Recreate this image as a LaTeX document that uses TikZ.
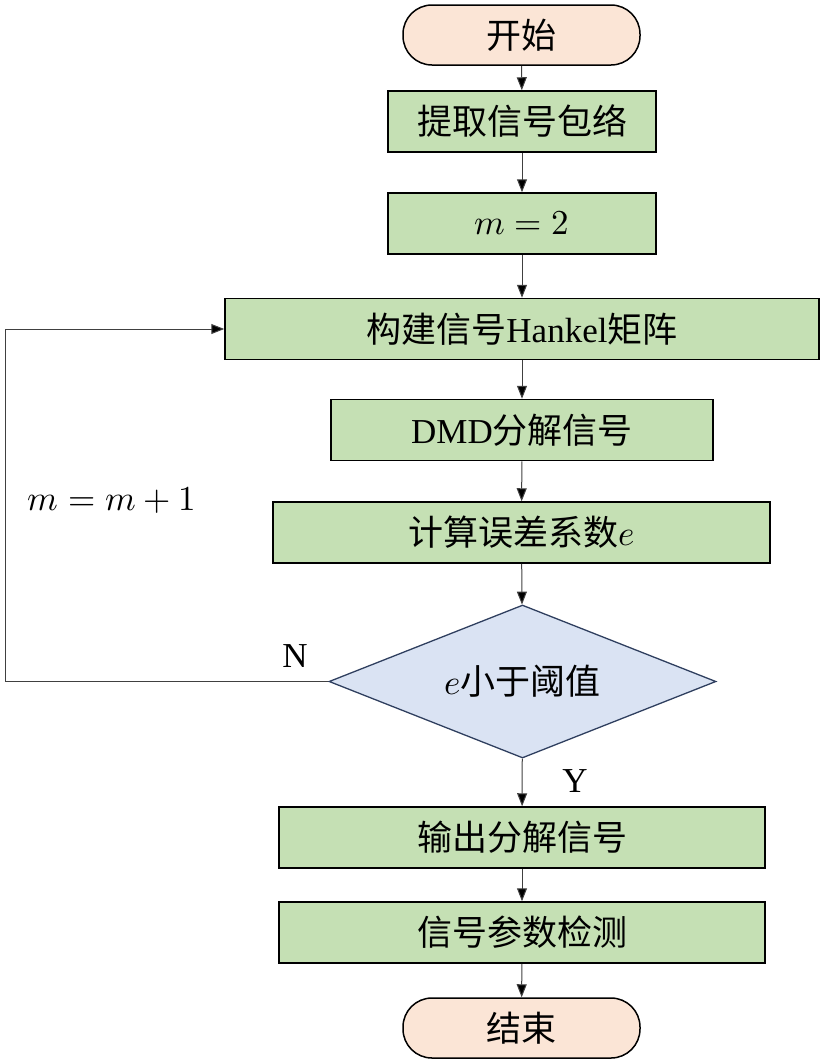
\documentclass[tikz,border=0pt]{standalone}
\usepackage{fontspec}
\usepackage{unicode-math}
\setmainfont{Liberation Serif}
\setmathfont{Latin Modern Math}
\newfontfamily\cjk{Noto Sans CJK SC}
\usetikzlibrary{shapes.geometric,arrows.meta}
\definecolor{peach}{HTML}{FBE5D6}
\definecolor{lgreen}{HTML}{C5E0B4}
\definecolor{lblue}{HTML}{DAE3F3}
\definecolor{dblue}{HTML}{2F3F5F}
\definecolor{lgray}{HTML}{404040}
\begin{document}
\begin{tikzpicture}[x=1pt,y=-1pt,
  every node/.style={font=\fontsize{35}{40}\selectfont, inner sep=0pt},
  term/.style={draw=black, line width=1.5pt, fill=peach, rounded corners=29pt, minimum width=237pt, minimum height=60pt},
  proc/.style={draw=black, line width=1.5pt, fill=lgreen, minimum height=61pt},
  decide/.style={diamond, aspect=2.53, draw=dblue, line width=1.3pt, fill=lblue, minimum width=387pt, minimum height=153pt},
  conn/.style={draw=lgray, line width=1pt, -{Triangle[length=13pt,width=10pt,fill=black]}},
  lab/.style={font=\fontsize{35}{40}\selectfont}
]
\useasboundingbox (0,0) rectangle (824,1061);
\node[term] (start) at (521.5,35) {\cjk 开始};
\node[proc, minimum width=268pt] (env) at (522,121.5) {\cjk 提取信号包络};
\node[proc, minimum width=268pt] (m2) at (522,223.5) {$m=2$};
\node[proc, minimum width=594pt] (hank) at (522,329) {{\cjk 构建信号}Hankel{\cjk 矩阵}};
\node[proc, minimum width=382pt] (dmd) at (522,430) {DMD{\cjk 分解信号}};
\node[proc, minimum width=497pt] (err) at (521.5,532.5) {{\cjk 计算误差系数}$e$};
\node[decide] (dec) at (522.5,681.5) {$e${\cjk 小于阈值}};
\node[proc, minimum width=486pt] (out) at (522,837.5) {\cjk 输出分解信号};
\node[proc, minimum width=486pt] (det) at (522,932.5) {\cjk 信号参数检测};
\node[term] (end) at (521.5,1028) {\cjk 结束};
\coordinate (cl) at (5,681.5);
\coordinate (cu) at (5,329);
\draw[conn] (start) -- (env);
\draw[conn] (env) -- (m2);
\draw[conn] (m2) -- (hank);
\draw[conn] (hank) -- (dmd);
\draw[conn] (dmd) -- (err);
\draw[conn] (err) -- (dec);
\draw[conn] (dec) -- (out);
\draw[conn] (out) -- (det);
\draw[conn] (det) -- (end);
\draw[conn] (dec.west) -- (cl) -- (cu) -- (hank.west);
\node[lab] (inc) at (112,500) {$m=m+1$};
\node[lab] (nlab) at (295,656) {N};
\node[lab] (ylab) at (575,781) {Y};
\end{tikzpicture}
\end{document}
